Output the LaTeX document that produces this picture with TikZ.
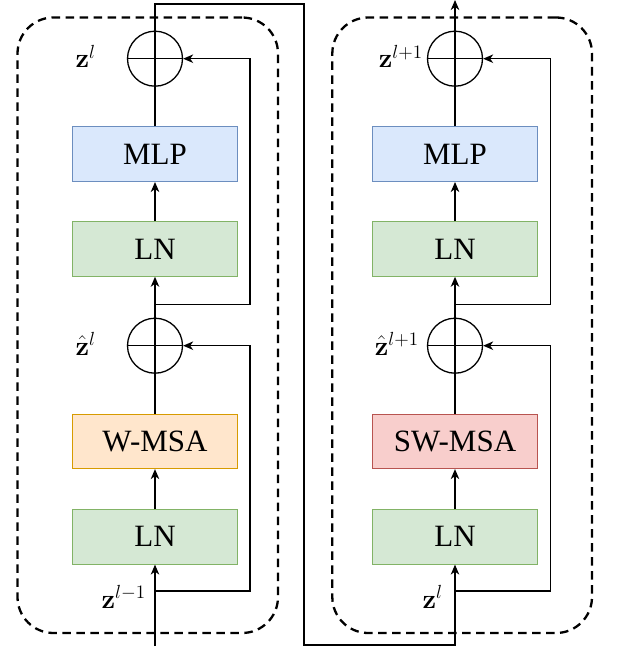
\documentclass[tikz,border=0pt]{standalone}
\usepackage{fix-cm}
\usepackage[no-math]{fontspec}
\setmainfont{Liberation Serif}
\usetikzlibrary{arrows.meta}
\definecolor{mlpfill}{HTML}{DAE8FC}\definecolor{mlpdraw}{HTML}{6C8EBF}
\definecolor{lnfill}{HTML}{D5E8D4}\definecolor{lndraw}{HTML}{82B366}
\definecolor{wfill}{HTML}{FFE6CC}\definecolor{wdraw}{HTML}{D79B00}
\definecolor{swfill}{HTML}{F8CECC}\definecolor{swdraw}{HTML}{B85450}
\DeclareMathAlphabet{\mathbfz}{OT1}{cmr}{bx}{n}
\tikzset{
  blk/.style={draw, line width=1.1pt, minimum width=164.5pt, minimum height=54.5pt, inner sep=0pt,
    font=\fontsize{31}{36}\selectfont},
  mlpbox/.style={blk, fill=mlpfill, draw=mlpdraw},
  lnbox/.style={blk, fill=lnfill, draw=lndraw},
  wbox/.style={blk, fill=wfill, draw=wdraw},
  swbox/.style={blk, fill=swfill, draw=swdraw},
  sumnode/.style={draw, circle, line width=1.3pt, minimum size=55pt, inner sep=0pt},
  conn/.style={line width=1.3pt},
  arr/.style={conn, -{Stealth[length=10pt,width=8.5pt,inset=3pt]}},
  dashbox/.style={draw, dash pattern=on 8.5pt off 5.5pt, line width=2.3pt, rounded corners=36pt, inner sep=0pt},
  lbl/.style={anchor=base east, inner sep=0pt, scale=1.18, font=\fontsize{23}{27}\selectfont},
}
\begin{document}
\begin{tikzpicture}[x=1pt,y=-1pt]
\useasboundingbox (0,0) rectangle (616,652);
% dashed blocks
\node[dashbox, minimum width=260.5pt, minimum height=615.5pt] (blkL) at (147.75,325.25) {};
\node[dashbox, minimum width=259.7pt, minimum height=615.5pt] (blkR) at (462.15,325.25) {};
% left column
\node[sumnode] (s1) at (155,58.7) {};
\node[mlpbox] (mlp1) at (155,154.2) {MLP};
\node[lnbox] (ln2) at (155,249) {LN};
\node[sumnode] (s2) at (155,345.7) {};
\node[wbox] (w1) at (155,441.3) {W-MSA};
\node[lnbox] (ln1) at (155,536.8) {LN};
% right column
\node[sumnode] (s4) at (455,58.7) {};
\node[mlpbox] (mlp2) at (455,154.2) {MLP};
\node[lnbox] (ln4) at (455,249) {LN};
\node[sumnode] (s3) at (455,345.7) {};
\node[swbox] (sw1) at (455,441.3) {SW-MSA};
\node[lnbox] (ln3) at (455,536.8) {LN};
% crosses in circles
\foreach \s in {s1,s2,s3,s4}{
  \draw[conn] (\s.north) -- (\s.south) (\s.west) -- (\s.east);
}
% coordinates
\coordinate (in) at (155,646);
\coordinate (brA) at (155,591);
\coordinate (brB) at (155,304.3);
\coordinate (brC) at (455,591);
\coordinate (brD) at (455,304.3);
\coordinate (t1) at (155,4);
\coordinate (t2) at (304,4);
\coordinate (b2) at (304,645);
\coordinate (b3) at (455,645);
\coordinate (out) at (455,0);
% left connectors
\draw[arr] (in) -- (ln1.south);
\draw[arr] (ln1.north) -- (w1.south);
\draw[conn] (w1.north) -- (s2.south);
\draw[arr] (s2.north) -- (ln2.south);
\draw[arr] (ln2.north) -- (mlp1.south);
\draw[conn] (mlp1.north) -- (s1.south);
\draw[arr] (brA) -- (250,591) |- (s2.east);
\draw[arr] (brB) -- (250,304.3) |- (s1.east);
% link
\draw[arr] (s1.north) -- (t1) -- (t2) -- (b2) -- (b3) -- (ln3.south);
% right connectors
\draw[arr] (ln3.north) -- (sw1.south);
\draw[conn] (sw1.north) -- (s3.south);
\draw[arr] (s3.north) -- (ln4.south);
\draw[arr] (ln4.north) -- (mlp2.south);
\draw[conn] (mlp2.north) -- (s4.south);
\draw[arr] (brC) -- (550.7,591) |- (s3.east);
\draw[arr] (brD) -- (550.7,304.3) |- (s4.east);
\draw[arr] (s4.north) -- (out);
% labels
\node[lbl] (zl1) at (96,68) {$\mathbfz{z}^{l}$};
\node[lbl] (zh1) at (96,355) {$\hat{\mathbfz{z}}^{l}$};
\node[lbl] (zin) at (146,608) {$\mathbfz{z}^{l-1}$};
\node[lbl] (zl2) at (423,68) {$\mathbfz{z}^{l+1}$};
\node[lbl] (zh2) at (419,355) {$\hat{\mathbfz{z}}^{l+1}$};
\node[lbl] (zl3) at (443,608) {$\mathbfz{z}^{l}$};
\end{tikzpicture}
\end{document}
